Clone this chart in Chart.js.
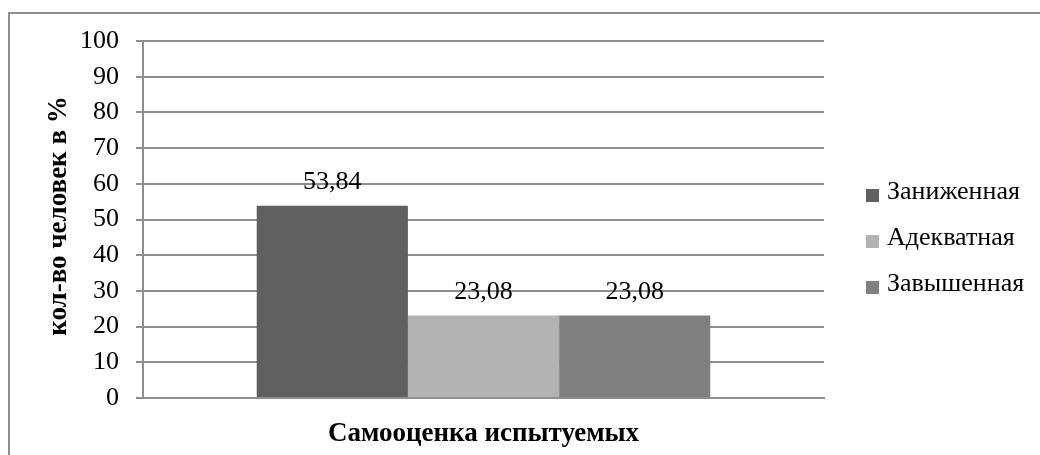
<!DOCTYPE html>
<html>
<head>
<meta charset="utf-8">
<script src="https://cdn.jsdelivr.net/npm/chart.js@4/dist/chart.umd.min.js"></script>
<style>
  html, body { margin: 0; padding: 0; background: #fff; }
  #wrap { width: 1040px; height: 455px; }
</style>
</head>
<body>
<div id="wrap"><canvas id="c" width="1040" height="455"></canvas></div>
<script>
// Самооценка испытуемых, % of participants per level
const categories = ['Самооценка испытуемых'];
const seriesNames = ['Заниженная', 'Адекватная', 'Завышенная'];
const seriesValues = [[53.84], [23.08], [23.08]];
const seriesColors = ['#606060', '#b2b2b2', '#808080'];
const yTicks = [0, 10, 20, 30, 40, 50, 60, 70, 80, 90, 100];
const yTitle = 'кол-во человек в %';

const FONT = '"Liberation Serif", "Times New Roman", serif';
const GRID = '#8e8e8e';

// outer frame of the chart
const framePlugin = {
  id: 'frame',
  beforeDraw(chart) {
    const ctx = chart.ctx;
    ctx.save();
    ctx.strokeStyle = GRID;
    ctx.lineWidth = 2;
    ctx.strokeRect(9, 13, chart.width + 20, chart.height + 20);
    ctx.restore();
  }
};

// value labels above each bar
const valueLabels = {
  id: 'valueLabels',
  afterDatasetsDraw(chart) {
    const ctx = chart.ctx;
    ctx.save();
    ctx.font = '26px ' + FONT;
    ctx.fillStyle = '#000';
    ctx.textAlign = 'center';
    ctx.textBaseline = 'alphabetic';
    chart.data.datasets.forEach((ds, i) => {
      chart.getDatasetMeta(i).data.forEach((bar, j) => {
        const txt = ds.data[j].toFixed(2).replace('.', ',');
        ctx.fillText(txt, bar.x, bar.y - 17);
      });
    });
    ctx.restore();
  }
};

// rotated y-axis title beside the tick labels
const yTitlePlugin = {
  id: 'yTitle',
  afterDraw(chart) {
    const ctx = chart.ctx;
    ctx.save();
    ctx.translate(59, 216);
    ctx.rotate(-Math.PI / 2);
    ctx.font = 'bold 27px ' + FONT;
    ctx.fillStyle = '#000';
    ctx.textAlign = 'center';
    ctx.textBaseline = 'middle';
    ctx.fillText(yTitle, 0, 0);
    ctx.restore();
  }
};

// legend column to the right of the plot
const sideLegend = {
  id: 'sideLegend',
  afterDraw(chart) {
    const ctx = chart.ctx;
    const x0 = chart.chartArea.right + 42;
    const rows = [192, 238, 284];
    ctx.save();
    ctx.font = '26px ' + FONT;
    ctx.textAlign = 'left';
    ctx.textBaseline = 'middle';
    chart.data.datasets.forEach((ds, i) => {
      const y = rows[i];
      ctx.fillStyle = ds.backgroundColor;
      ctx.fillRect(x0, y - 3, 13, 13);
      ctx.fillStyle = '#000';
      ctx.fillText(ds.label, x0 + 21, y);
    });
    ctx.restore();
  }
};

new Chart(document.getElementById('c'), {
  type: 'bar',
  data: {
    labels: categories,
    datasets: seriesNames.map((name, i) => ({
      label: name,
      data: seriesValues[i],
      backgroundColor: seriesColors[i],
      borderWidth: 0
    }))
  },
  options: {
    responsive: false,
    animation: false,
    devicePixelRatio: 1,
    categoryPercentage: 0.666,
    barPercentage: 1,
    layout: { padding: { top: 41, right: 216, bottom: 0, left: 0 } },
    plugins: {
      legend: { display: false },
      tooltip: { enabled: false }
    },
    scales: {
      x: {
        ticks: { display: false },
        grid: { display: false, drawTicks: false },
        border: { color: GRID, width: 2 },
        title: {
          display: true,
          text: categories[0],
          font: { family: FONT, size: 27, weight: 'bold' },
          color: '#000',
          padding: { top: 0, bottom: 5 }
        },
        afterFit(scale) { scale.height = 57; }
      },
      y: {
        min: 0,
        max: 100,
        afterBuildTicks(scale) { scale.ticks = yTicks.map(v => ({ value: v })); },
        ticks: {
          font: { family: FONT, size: 26 },
          color: '#000',
          padding: 17
        },
        grid: { color: GRID, lineWidth: 2, tickLength: 7 },
        border: { color: GRID, width: 2 },
        title: { display: false },
        afterFit(scale) { scale.width = 143; }
      }
    }
  },
  plugins: [framePlugin, valueLabels, yTitlePlugin, sideLegend]
});
</script>
</body>
</html>
